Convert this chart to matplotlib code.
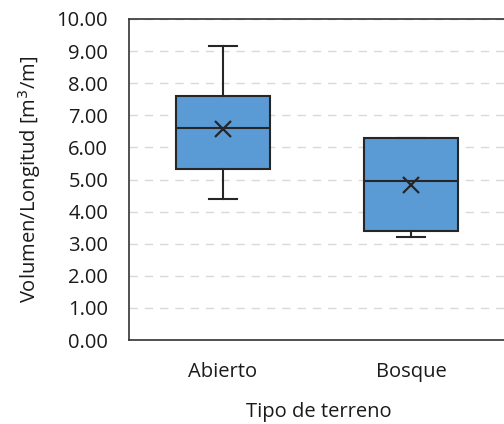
import matplotlib
matplotlib.use("Agg")
import matplotlib.pyplot as plt

plt.rcParams['font.family'] = ['Open Sans', 'DejaVu Sans']

# Box statistics per terrain type
categories = ["Abierto", "Bosque"]
whisker_low = [4.40, 3.20]
q1 = [5.33, 3.40]
median = [6.60, 4.95]
q3 = [7.60, 6.29]
whisker_high = [9.15, 6.29]
mean = [6.57, 4.83]

y_ticks = [0, 1, 2, 3, 4, 5, 6, 7, 8, 9, 10]

fig = plt.figure(figsize=(5.04, 4.24), dpi=100)
ax = fig.add_axes([129 / 504, 84 / 424, 380 / 504, 321 / 424])

stats = []
for i, name in enumerate(categories):
    stats.append(dict(label=name, whislo=whisker_low[i], q1=q1[i], med=median[i],
                      q3=q3[i], whishi=whisker_high[i], mean=mean[i], fliers=[]))

positions = [i + 0.5 for i in range(len(categories))]
edge = "#262626"
ax.bxp(stats, positions=positions, widths=0.5, patch_artist=True, showmeans=True,
       boxprops=dict(facecolor="#5B9BD5", edgecolor=edge, linewidth=1.5),
       medianprops=dict(color=edge, linewidth=1.5),
       whiskerprops=dict(color=edge, linewidth=1.5),
       capprops=dict(color=edge, linewidth=1.5),
       capwidths=0.15,
       meanprops=dict(marker="x", markersize=12, markeredgecolor=edge,
                      markeredgewidth=1.6),
       zorder=3)

ax.set_xlim(0, 380 / 188)
ax.set_ylim(0, 10)
ax.set_yticks(y_ticks)
ax.set_yticklabels([f"{v:.2f}" for v in y_ticks])
ax.set_xticks(positions)
ax.set_xticklabels(categories)
ax.tick_params(axis="both", length=0, labelsize=14.5, colors="#1a1a1a")
ax.tick_params(axis="y", pad=15)
ax.tick_params(axis="x", pad=16)

ax.yaxis.grid(True, linestyle=(0, (6, 5)), color="#d9d9d9", linewidth=1.0, zorder=0)
ax.set_axisbelow(True)
for s in ax.spines.values():
    s.set_color("#333333")
    s.set_linewidth(1.2)

ax.set_xlabel("Tipo de terreno", fontsize=14.5, labelpad=14, color="#1a1a1a")
ax.set_ylabel("Volumen/Longitud [m$^3$/m]", fontsize=14.5, labelpad=10, color="#1a1a1a")

fig.savefig("out.png", dpi=100)
